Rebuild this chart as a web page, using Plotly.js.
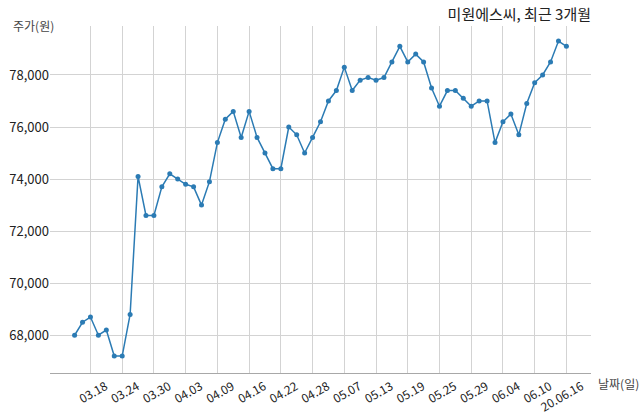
<!DOCTYPE html>
<html>
<head>
<meta charset="utf-8">
<script src="https://cdn.plot.ly/plotly-3.0.1.min.js"></script>
<style>
  html, body { margin: 0; padding: 0; background: #fff; }
  #chart { width: 640px; height: 414px; }
</style>
</head>
<body>
<div id="chart"></div>
<script>
// trading days, 2020.03.16 ~ 2020.06.16
var dates = [
  "03.16", "03.17", "03.18", "03.19", "03.20", "03.23", "03.24", "03.25", "03.26", "03.27",
  "03.30", "03.31", "04.01", "04.02", "04.03", "04.06", "04.07", "04.08", "04.09", "04.10",
  "04.13", "04.14", "04.16", "04.17", "04.20", "04.21", "04.22", "04.23", "04.24", "04.27",
  "04.28", "04.29", "05.04", "05.06", "05.07", "05.08", "05.11", "05.12", "05.13", "05.14",
  "05.15", "05.18", "05.19", "05.20", "05.21", "05.22", "05.25", "05.26", "05.27", "05.28",
  "05.29", "06.01", "06.02", "06.03", "06.04", "06.05", "06.08", "06.09", "06.10", "06.11",
  "06.12", "06.15", "06.16"
];
var prices = [
  68000, 68500, 68700, 68000, 68200, 67200, 67200, 68800, 74100, 72600,
  72600, 73700, 74200, 74000, 73800, 73700, 73000, 73900, 75400, 76300,
  76600, 75600, 76600, 75600, 75000, 74400, 74400, 76000, 75700, 75000,
  75600, 76200, 77000, 77400, 78300, 77400, 77800, 77900, 77800, 77900,
  78500, 79100, 78500, 78800, 78500, 77500, 76800, 77400, 77400, 77100,
  76800, 77000, 77000, 75400, 76200, 76500, 75700, 76900, 77700, 78000,
  78500, 79300, 79100
];
var tickDates = ["03.18", "03.24", "03.30", "04.03", "04.09", "04.16", "04.22", "04.28",
                 "05.07", "05.13", "05.19", "05.25", "05.29", "06.04", "06.10", "06.16"];
var tickLabels = ["03.18", "03.24", "03.30", "04.03", "04.09", "04.16", "04.22", "04.28",
                  "05.07", "05.13", "05.19", "05.25", "05.29", "06.04", "06.10", "20.06.16"];
var yTicks = [68000, 70000, 72000, 74000, 76000, 78000];

var font = "'Noto Sans CJK KR', 'Noto Sans', sans-serif";

var data = [{
  x: dates,
  y: prices,
  type: 'scatter',
  mode: 'lines+markers',
  line: { color: '#2b7bb4', width: 1.5 },
  marker: { color: '#2b7bb4', size: 5 },
  hoverinfo: 'x+y'
}];

var layout = {
  width: 640,
  height: 414,
  showlegend: false,
  paper_bgcolor: '#fff',
  plot_bgcolor: '#fff',
  font: { family: font, size: 13, color: '#222' },
  margin: { l: 50, r: 49, t: 26, b: 41, pad: 0 },
  title: {
    text: '미원에스씨, 최근 3개월',
    font: { family: font, size: 15, color: '#222' },
    xref: 'paper', x: 1, xanchor: 'right',
    yref: 'container', y: 0.965, yanchor: 'middle'
  },
  xaxis: {
    type: 'category',
    range: [-3.1, 65.1],
    tickmode: 'array',
    tickvals: tickDates,
    ticktext: tickLabels,
    tickangle: -30,
    ticklabelshift: 15,
    ticklabelstandoff: 1,
    ticks: '',
    tickfont: { family: font, size: 12, color: '#222' },
    showgrid: true,
    gridcolor: '#d3d3d3',
    gridwidth: 1,
    showline: true,
    linecolor: '#a8a8a8',
    linewidth: 1,
    zeroline: false
  },
  yaxis: {
    range: [66550, 79880],
    tickmode: 'array',
    tickvals: yTicks,
    ticktext: yTicks.map(function (v) { return v.toLocaleString('en-US'); }),
    ticks: '',
    tickfont: { family: font, size: 13, color: '#222' },
    showgrid: true,
    gridcolor: '#d3d3d3',
    gridwidth: 1,
    showline: false,
    zeroline: false
  },
  annotations: [{
    text: '주가(원)',
    xref: 'paper', yref: 'paper',
    x: 0, y: 1, xanchor: 'left', yanchor: 'bottom',
    xshift: -39, yshift: -10,
    showarrow: false,
    font: { family: font, size: 12, color: '#444' }
  }, {
    text: '날짜(일)',
    xref: 'paper', yref: 'paper',
    x: 1, y: 0, xanchor: 'left', yanchor: 'top',
    xshift: 5, yshift: 0,
    showarrow: false,
    font: { family: font, size: 12, color: '#444' }
  }]
};

Plotly.newPlot('chart', data, layout, { displayModeBar: false, staticPlot: true });
</script>
</body>
</html>
